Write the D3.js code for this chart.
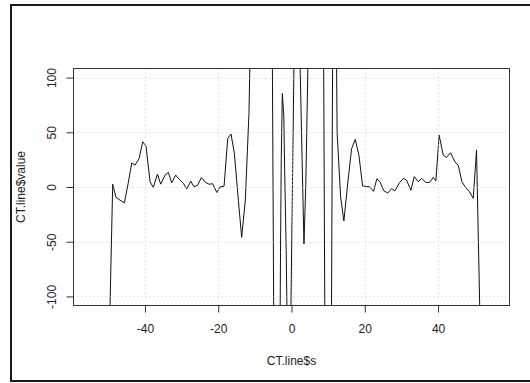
<!DOCTYPE html>
<html><head><meta charset="utf-8">
<script src="https://cdn.jsdelivr.net/npm/d3@7"></script>
<style>
body{margin:0;background:#fff}
svg{display:block}
text{font-family:"Liberation Sans",Arial,sans-serif;font-size:12px;fill:#222}
</style>
</head><body>
<svg id="c" width="530" height="383"></svg>
<script>
// ---- data ----
const sVals = [-55.1,-52.5,-49.8,-48.8,-47.9,-46.8,-45.6,-44.6,-43.6,-42.7,-41.6,-40.6,-39.7,-38.6,-37.7,-36.6,-35.7,-34.5,-33.6,-32.7,-31.6,-30.6,-29.5,-28.6,-27.5,-26.6,-25.6,-24.6,-23.5,-22.5,-21.5,-20.4,-19.5,-18.4,-17.4,-16.5,-15.6,-14.5,-13.6,-12.6,-11.6,-10.6,-9.6,-8.6,-7.6,-6.6,-5.6,-4.4,-3.5,-3.0,-2.8,-2.5,-2.1,-1.9,-1.45,-0.9,-0.4,0.9,1.4,1.9,2.4,2.9,3.4,3.9,4.4,4.9,5.9,6.9,7.4,8.4,9.6,10.0,10.4,11.6,12.45,13.4,14.3,15.4,16.4,17.4,18.4,19.4,20.4,21.4,22.4,23.3,24.2,25.2,26.3,27.3,28.2,29.5,30.5,31.4,32.6,33.5,34.6,35.5,36.6,37.7,38.7,39.4,40.3,41.4,42.3,43.4,44.6,45.5,46.5,47.4,48.6,49.6,50.5,51.5,53.3,55.1];
const lineValues = [-300,-400,-150,2.6,-9.5,-12,-14.5,3,22,20,26,41.3,37.4,4.8,-0.4,11.8,2.6,10.9,13.3,3.8,10.9,6.9,3.3,-1.8,5.3,0.2,1.7,8.6,4.3,2.5,3,-5,0,0.8,44.4,48.4,30.7,-12,-46,-12,68,250,600,900,800,600,350,-400,-350,-60,25,85.5,65,22,-58,-200,-175,172,260,180,103,24,-52,2,95,200,400,600,550,400,-500,-600,-500,400,50,-9,-31,5,35,43.5,29,1,0.5,0,-4,7.5,4.5,-3.5,-5.5,-1.5,-3.5,4,7.8,6.3,-3,9.5,4.8,8,4.2,4.2,8.8,5.7,47.4,29.2,27,31.3,23,20,5,0,-4.4,-10.4,33.7,-130,-350,-300];
const xTicks = [-40,-20,0,20,40];
const yTicks = [-100,-50,0,50,100];
const xLimits = [-59.5,59.5];
const yLimits = [-108.3,108.3];
const xTitle = "CT.line$s";
const yTitle = "CT.line$value";

// ---- layout ----
const svg = d3.select("#c");
const L = 73.5, R = 509.5, T = 68.5, B = 305.5;
const x = d3.scaleLinear().domain(xLimits).range([L, R]);
const y = d3.scaleLinear().domain(yLimits).range([B, T]);
const fmt = d => String(d);

// outer frame
svg.append("rect").attr("x",11).attr("y",5).attr("width",540).attr("height",376)
  .attr("fill","none").attr("stroke","#1a1a1a").attr("stroke-width",2);

// clip
svg.append("clipPath").attr("id","clip").append("rect")
  .attr("x",L).attr("y",T).attr("width",R-L).attr("height",B-T);

const data = sVals.map((s,i)=>({s, v: lineValues[i]}));
svg.append("path").datum(data)
  .attr("clip-path","url(#clip)")
  .attr("fill","none").attr("stroke","#111").attr("stroke-width",1)
  .attr("d", d3.line().x(d=>x(d.s)).y(d=>y(d.v)));

// grid (drawn on top, as R's grid())
const g = svg.append("g").attr("stroke","#cfcfcf").attr("stroke-dasharray","1,3").attr("stroke-width",1);
g.selectAll(".vx").data(xTicks).join("line")
  .attr("x1",d=>Math.round(x(d))+0.5).attr("x2",d=>Math.round(x(d))+0.5).attr("y1",T).attr("y2",B);
g.selectAll(".hy").data(yTicks).join("line")
  .attr("y1",d=>Math.round(y(d))+0.5).attr("y2",d=>Math.round(y(d))+0.5).attr("x1",L).attr("x2",R);

// axes
const xa = svg.append("g").attr("transform",`translate(0,${B})`)
  .call(d3.axisBottom(x).tickValues(xTicks).tickSize(7).tickFormat(fmt));
xa.select(".domain").remove();
xa.selectAll("line").attr("stroke","#333");
xa.selectAll("text").attr("dy",null).attr("y",27.8).style("font-size","12px").attr("fill","#222");

const ya = svg.append("g").attr("transform",`translate(${L},0)`)
  .call(d3.axisLeft(y).tickValues(yTicks).tickSize(7).tickFormat(fmt));
ya.select(".domain").remove();
ya.selectAll("line").attr("stroke","#333");
ya.selectAll("text").attr("x",null).attr("dy",null).attr("text-anchor","middle")
  .attr("transform",`translate(${55.8-L},0) rotate(-90)`).attr("fill","#222");

// plot box
svg.append("rect").attr("x",L).attr("y",T).attr("width",R-L).attr("height",B-T)
  .attr("fill","none").attr("stroke","#333").attr("stroke-width",1);

// titles
svg.append("text").attr("x",(L+R)/2).attr("y",364.5).attr("text-anchor","middle").text(xTitle);
svg.append("text").attr("transform",`translate(24.5,${(T+B)/2}) rotate(-90)`)
  .attr("text-anchor","middle").text(yTitle);
</script>
</body></html>
